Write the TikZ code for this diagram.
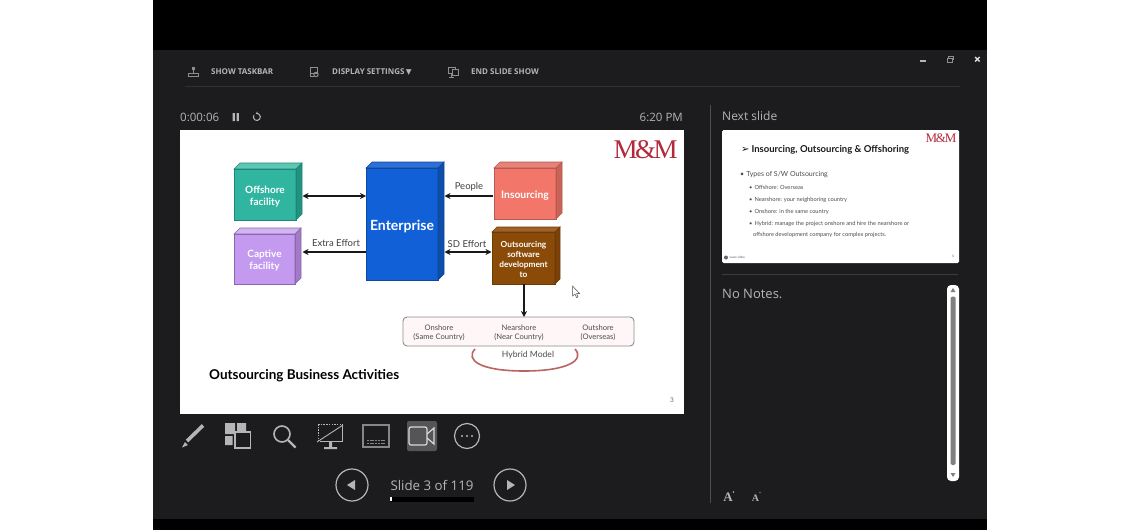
\documentclass[tikz,border=0pt]{standalone}
\usepackage{fontspec}
\setmainfont{Lato}
\newfontfamily\ui{Open Sans}
\newfontfamily\dv{DejaVu Sans}
\newfontfamily\logofont{Liberation Serif}
\usetikzlibrary{arrows.meta,calc}
\definecolor{panel}{HTML}{1C1B1E}
\definecolor{uigray}{HTML}{B5B5B5}
\definecolor{logored}{HTML}{B3293C}
\definecolor{arcred}{HTML}{B9655F}
\definecolor{tealF}{HTML}{2FB5A0}\definecolor{tealT}{HTML}{5CC7B4}\definecolor{tealS}{HTML}{23917F}\definecolor{tealB}{HTML}{1F8675}
\definecolor{purpF}{HTML}{C39AF0}\definecolor{purpT}{HTML}{D3B4F5}\definecolor{purpS}{HTML}{A17BC7}\definecolor{purpB}{HTML}{8A68AB}
\definecolor{blueF}{HTML}{1160D8}\definecolor{blueT}{HTML}{2F6FD6}\definecolor{blueS}{HTML}{0E4EA8}\definecolor{blueB}{HTML}{0D4A9E}
\definecolor{salmF}{HTML}{F2776A}\definecolor{salmT}{HTML}{E6827A}\definecolor{salmS}{HTML}{C96355}\definecolor{salmB}{HTML}{B85A4E}
\definecolor{browF}{HTML}{8A4B08}\definecolor{browT}{HTML}{A0622A}\definecolor{browS}{HTML}{7A4208}\definecolor{browB}{HTML}{6E3B06}
\tikzset{
  x=1pt,y=-1pt,
  face/.style={inner sep=0,outer sep=0,align=center,text=white,font=\bfseries\fontsize{10}{12}\selectfont,yshift=-2pt},
  conn/.style={line width=1.2pt,-{Stealth[length=6pt,width=6pt]},draw=black!90},
  biconn/.style={line width=1.2pt,{Stealth[length=6pt,width=6pt]}-{Stealth[length=6pt,width=6pt]},draw=black!90},
  lab/.style={inner sep=0,text=black!75,font=\fontsize{9.5}{11}\selectfont},
  small/.style={inner sep=0,align=center,text=black!70,font=\fontsize{7.6}{9}\selectfont},
  uitext/.style={inner sep=0,text=uigray,font=\ui\fontsize{12}{14}\selectfont},
  barlabel/.style={inner sep=0,anchor=west,text=uigray,font=\ui\bfseries\fontsize{8}{9}\selectfont},
  icon/.style={draw=uigray,line width=1.2pt},
  icontop/.style={draw=uigray!75!panel,line width=.7pt},
  thumb/.style={inner sep=0,anchor=west,text=black!70,font=\fontsize{5.7}{7}\selectfont},
}
% name, x1, y1, x2, y2, depth, colour prefix, text, text style
\newcommand\cubebox[9]{%
  \node[fill=#7F,inner sep=0,outer sep=0,minimum width=#4-#2,minimum height=#5-#3,
        label={[face,#9]center:{#8}}] (#1) at ({(#2+#4)/2},{(#3+#5)/2}) {};
  \path[fill=#7T,draw=#7B,line width=.6pt] (#1.north west) -- ++(#6,-#6) -- ($(#1.north east)+(#6,-#6)$) -- (#1.north east) -- cycle;
  \path[fill=#7S,draw=#7B,line width=.6pt] (#1.north east) -- ++(#6,-#6) -- ($(#1.south east)+(#6,-#6)$) -- (#1.south east) -- cycle;
  \path[draw=#7B,line width=.6pt] (#1.north west) rectangle (#1.south east);
}
\begin{document}
\begin{tikzpicture}
\useasboundingbox (0,0) rectangle (1140,530);
\fill[white] (0,0) rectangle (1140,530);
\fill[black] (153,0) rectangle (987,530);
\fill[panel] (153,50) rectangle (987,519);

% top bar
\draw[white!9!panel,line width=.6pt] (185,86) -- (960,86);
\node[barlabel] (b1) at (211,72) {SHOW TASKBAR};
\node[barlabel] (b2) at (332,72) {DISPLAY SETTINGS\,{\dv\fontsize{7.5}{8}\selectfont ▼}};
\node[barlabel] (b3) at (471,72) {END SLIDE SHOW};
\draw[icontop] (188,73) rectangle (198,76.5) (193,68) -- (193,73);
\fill[uigray!75!panel] (191.5,67) rectangle (194.5,70);
\draw[icontop] (310,67) rectangle (317,73) (310,73) -- (310,76) -- (314,76);
\draw[icontop,line width=1pt] (316,74.5) circle (2.2);
\draw[icontop] (448,67) rectangle (455,73) (451.5,73) -- (451.5,77) (449,77) -- (454,77);
\draw[icontop,fill=panel] (452,69) rectangle (458,75);

% window buttons
\fill[uigray] (920,60) rectangle (926,61.5);
\draw[icontop] (947,58) rectangle (952,62) (948.5,58) -- (948.5,56.5) -- (953,56.5) -- (953,60);
\draw[white!85!black,line width=1.4pt] (975,57) -- (979.5,61.5) (979.5,57) -- (975,61.5);

% timer row
\node[uitext,anchor=west,font=\ui\fontsize{11.5}{14}\selectfont] (timer) at (180,117) {0:00:06};
\fill[uigray] (232.5,113) rectangle (234.8,121) (236.6,113) rectangle (238.9,121);
\draw[uigray,line width=1pt,-{Stealth[length=2.5pt,width=3pt]}] (254,115) arc[start angle=215,end angle=-110,radius=3.5];
\node[uitext,anchor=east,font=\ui\fontsize{11.5}{14}\selectfont] (clock) at (683,117) {6:20 PM};

% slide
\fill[white] (180,130) rectangle (683.5,414);
\node[inner sep=0,text=logored,font=\logofont\fontsize{27}{28}\selectfont] (logo) at (645.5,149.5) {M\kern-2.5pt\&\kern-2.5pt M};

\cubebox{offshore}{234}{169}{296}{220}{6}{teal}{Offshore\\facility}{}
\cubebox{captive}{234}{234}{295}{284}{6}{purp}{Captive\\facility}{}
\cubebox{enterprise}{366}{168}{438}{280}{6}{blue}{Enterprise}{font=\bfseries\fontsize{14}{16}\selectfont}
\cubebox{insourcing}{494}{168}{556}{219}{6}{salm}{Insourcing}{font=\bfseries\fontsize{10.3}{12}\selectfont}
\cubebox{outsourcing}{492}{232}{555}{284}{5}{brow}{Outsourcing\\software\\development\\to}{font=\bfseries\fontsize{8.3}{10}\selectfont,yshift=1pt}

\draw[biconn] ([shift={(6.5,1.5)}]offshore.east) -- ([shift={(0,-28)}]enterprise.west);
\draw[conn] ([shift={(0,28)}]enterprise.west) -- ([shift={(7.5,-7)}]captive.east);
\draw[conn] ([shift={(-1.5,2.5)}]insourcing.west) -- ([shift={(6.5,-28)}]enterprise.east);
\draw[biconn] ([shift={(6.5,28)}]enterprise.east) -- ([shift={(-.5,-6)}]outsourcing.west);
\node[lab,anchor=south] (lpeople) at (469,191) {People};
\node[lab,anchor=south] (lextra) at (336,247) {Extra Effort};
\node[lab,anchor=south] (lsd) at (467,248) {SD Effort};

\node[draw=black!45,fill=red!3,line width=.9pt,rounded corners=4pt,inner sep=0,outer sep=0,minimum width=231,minimum height=29] (models) at (518.5,331.5) {};
\draw[conn] ([xshift=.5pt]outsourcing.south) -- ([xshift=5.5pt]models.north);
\node[small] (on) at (439,332.5) {Onshore\\(Same Country)};
\node[small] (near) at (519,332.5) {Nearshore\\(Near Country)};
\node[small] (out) at (598,332.5) {Outshore\\(Overseas)};
\node[inner sep=0,text=black!70,font=\fontsize{8.6}{10}\selectfont] (hybrid) at (528,355) {Hybrid Model};
\coordinate (arcL) at (475,349);
\coordinate (arcR) at (575,349);
\draw[draw=arcred,line width=1.6pt] (arcL) .. controls (465,360) and (480,371) .. (524,371) .. controls (568,371) and (585,360) .. (arcR);

\node[inner sep=0,anchor=west,text=black,font=\bfseries\fontsize{13.5}{15}\selectfont] (title) at (209,375.5) {Outsourcing Business Activities};
\node[inner sep=0,text=black!60,font=\fontsize{6.5}{8}\selectfont] (pg) at (672,400) {3};

% mouse cursor
\draw[black!70,fill=white,line width=.5pt] (572.5,286) -- (572.5,296) -- (575,294) -- (576.5,297.5) -- (578,297) -- (576.5,293.5) -- (579.5,293.5) -- cycle;

% toolbar icons
\draw[uigray,line width=3.6pt] (187,441) -- (203,425.5);
\fill[uigray] (185,442) -- (182,447.5) -- (188,445) -- cycle;
\fill[uigray] (225,423) rectangle (235,434) (237,423) rectangle (246,431) (225,436) rectangle (232.5,445);
\draw[uigray,line width=1.6pt,fill=panel] (235,432) rectangle (250.5,448);
\draw[icon,line width=1.6pt] (282,434) circle (8);
\draw[uigray,line width=2.4pt] (288,440) -- (295.5,447.5);
\draw[uigray,line width=.8pt,dash pattern=on 1.5pt off 1.2pt] (318,424) -- (342,424) (318,424) -- (318,441);
\draw[uigray,line width=.9pt] (342,424) -- (342,441) -- (320,441);
\draw[uigray,line width=.9pt] (317,442) -- (343,425);
\fill[uigray] (329,441) rectangle (332,447) (324,447) rectangle (337,449);
\draw[uigray!70!panel,line width=1.1pt] (363,425) rectangle (389,447);
\draw[uigray!70!panel,line width=.7pt,dash pattern=on 2pt off .7pt] (367,440.5) -- (385,440.5) (367,443) -- (385,443);
\fill[white!25!panel,rounded corners=2pt] (407,421) rectangle (437,451);
\draw[uigray!50!white,line width=1.2pt,rounded corners=2pt] (409,427) rectangle (427,445);
\draw[uigray!50!white,line width=1.2pt] (427,434) -- (434,428) -- (434,444) -- (427,438);
\draw[icon] (467,436) circle (12.5);
\fill[uigray] (462,436) circle (1.2) (467,436) circle (1.2) (472,436) circle (1.2);

% slide navigation
\node[draw=uigray,line width=1.2pt,circle,minimum size=32,inner sep=0] (prev) at (352,485) {};
\node[draw=uigray,line width=1.2pt,circle,minimum size=32,inner sep=0] (next) at (510,485) {};
\fill[uigray] (347,485) -- (355,480) -- (355,490) -- cycle;
\fill[uigray] (515,485) -- (507,480) -- (507,490) -- cycle;
\node[uitext,font=\ui\fontsize{13.3}{15}\selectfont] (slidenum) at (432,485) {Slide 3 of 119};
\fill[black] (390,496.5) rectangle (474,501.5);
\fill[white] (390,497) rectangle (391.5,501);

% right panel
\draw[white!22!panel,line width=.7pt] (710,105) -- (710,503);
\node[uitext,anchor=west] (nexts) at (722,116) {Next slide};
\fill[white,rounded corners=1.5pt] (722,130) rectangle (959,263);
\node[inner sep=0,text=logored,font=\logofont\fontsize{13}{14}\selectfont] (logo2) at (941,138.5) {M\kern-1.3pt\&\kern-1.3pt M};
\node[inner sep=0,anchor=west,text=black!90,font=\bfseries\fontsize{9.5}{11}\selectfont] (ntitle) at (741,149.5) {{\dv\fontsize{10}{11}\selectfont ➢}\hspace{2pt}Insourcing, Outsourcing \& Offshoring};
\node[thumb,font=\fontsize{7}{8}\selectfont] (t1) at (740,175) {•\hspace{2pt}Types of S/W Outsourcing};
\node[thumb] (t2) at (749,187) {•\hspace{2pt}Offshore: Overseas};
\node[thumb] (t3) at (749,200) {•\hspace{2pt}Nearshore: your neighboring country};
\node[thumb] (t4) at (749,212) {•\hspace{2pt}Onshore: in the same country};
\node[thumb] (t5) at (749,224) {•\hspace{2pt}Hybrid: manage the project onshore and hire the nearshore or};
\node[thumb] (t6) at (753,235) {offshore development company for complex projects.};
\fill[black!60] (726,257.5) circle (2);
\node[thumb,font=\fontsize{3}{4}\selectfont] (t7) at (729.5,257.5) {www video};
\node[inner sep=0,text=black!60,font=\fontsize{3.5}{4}\selectfont] (t8) at (953,256) {4};

\draw[white!14!panel,line width=.7pt] (722,274) -- (958,274);
\node[uitext,anchor=west,font=\ui\fontsize{13}{15}\selectfont] (notes) at (722,294) {No Notes.};
\fill[white,rounded corners=4pt] (947,285) rectangle (959,481);
\fill[black!50,rounded corners=1.5pt] (950.5,296.5) rectangle (955.5,465);
\fill[black!50] (953,288) -- (955.5,292) -- (950.5,292) -- cycle;
\fill[black!50] (953,477) -- (955.5,473) -- (950.5,473) -- cycle;
\node[inner sep=0,text=uigray,font=\logofont\bfseries\fontsize{13}{15}\selectfont] (aplus) at (728,497) {A};
\node[inner sep=0,text=uigray,font=\logofont\bfseries\fontsize{10}{12}\selectfont] (aminus) at (755.5,498) {A};
\fill[uigray] (733.5,492) circle (.8) (760,492.5) circle (.7);
\end{tikzpicture}
\end{document}
